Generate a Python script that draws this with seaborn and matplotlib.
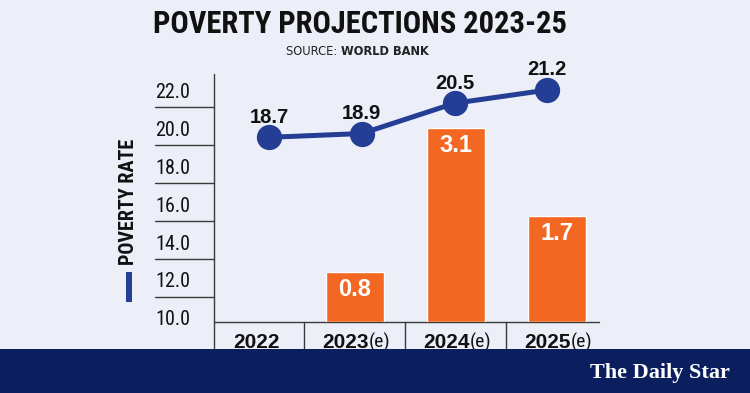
import matplotlib
matplotlib.use("Agg")
import matplotlib.pyplot as plt
import matplotlib.transforms as mtransforms
from matplotlib import font_manager
from matplotlib.patches import Rectangle
from matplotlib.lines import Line2D
import seaborn as sns

# data
years = ["2022", "2023", "2024", "2025"]
year_suffix = ["", "(e)", "(e)", "(e)"]
poverty_rate = [18.7, 18.9, 20.5, 21.2]
bar_years = ["2023", "2024", "2025"]
bar_values = [0.8, 3.1, 1.7]
y_ticks = [10, 12, 14, 16, 18, 20, 22]

BG = "#ECEEF8"
ORANGE = "#F26822"
BLUE = "#233E94"
NAVY = "#0B1F5E"
INK = "#111111"
AXC = "#3a3a3a"

# pick a condensed face if one is around, else shrink the plain one
installed = {f.name for f in font_manager.fontManager.ttflist}
NARROW, k = ["Liberation Sans", "DejaVu Sans"], 0.84
for cand in ["Liberation Sans Narrow", "Roboto Condensed", "DejaVu Sans Condensed",
             "Open Sans Condensed"]:
    if cand in installed:
        NARROW, k = [cand, "DejaVu Sans"], 1.0
        break

sns.set_theme(style="white")
plt.rcParams["font.family"] = ["Liberation Sans", "DejaVu Sans"]

fig = plt.figure(figsize=(7.5, 3.93), dpi=100, facecolor=BG)
rect = [0.2853, 0.1799, 0.5137, 0.6310]

# main axis: carries the poverty rate tick labels
ax = fig.add_axes(rect)
ax.set_facecolor(BG)

# bars on their own scale
ax_bar = ax.twinx()
sns.barplot(x=bar_years, y=bar_values, order=years, color=ORANGE,
            saturation=1, width=0.575, ax=ax_bar)
ax_bar.set_ylim(0, 3.949)
ax_bar.set_yticks([])
ax_bar.set_ylabel("")
for yr, v in zip(bar_years, bar_values):
    ax_bar.annotate(f"{v}", (years.index(yr), v), xytext=(0, -17.3),
                    textcoords="offset points", ha="center", va="baseline",
                    fontsize=17, fontweight="bold", color="white")

# line on its own overlay axes
ax_line = fig.add_axes(rect, facecolor="none")
sns.pointplot(x=years, y=poverty_rate, color=BLUE, errorbar=None,
              markersize=15.5, linewidth=3.6, ax=ax_line)
ax_line.set_xlim(-0.594, 3.561)
ax_line.set_ylim(8.922, 22.03)
ax_line.axis("off")
for i, v in enumerate(poverty_rate):
    ax_line.annotate(f"{v}", (i, v), xytext=(0, 10.5), textcoords="offset points",
                     ha="center", va="baseline", fontsize=14.5,
                     fontweight="bold", color=INK)

ax.set_ylim(9.762, 22.872)
ax.set_xlim(-0.396, 3.419)
for a in (ax, ax_bar):
    for s in a.spines.values():
        s.set_visible(False)
ax.set_xticks([])
ax.set_xlabel("")

ax.set_yticks(y_ticks)
ax.set_yticklabels([f"{t:.1f}" for t in y_ticks], fontsize=14.5 * k,
                   family=NARROW, color=INK)
ax.tick_params(axis="y", length=0, pad=42.5)
for lab in ax.get_yticklabels():
    lab.set_horizontalalignment("left")

# axis lines, tick underlines and column separators
ax.plot([0, 1], [0, 0], transform=ax.transAxes, color=AXC, lw=1, clip_on=False)
ax.plot([0, 0], [1, -0.108], transform=ax.transAxes, color=AXC, lw=1, clip_on=False)
tr_y = mtransforms.blended_transform_factory(ax.transAxes, ax.transData)
for t in y_ticks[1:]:
    ax.plot([-0.153, 0], [t - 0.88, t - 0.88], transform=tr_y, color=AXC,
            lw=1, clip_on=False)
tr_x = mtransforms.blended_transform_factory(ax.transData, ax.transAxes)
for i in range(len(years) - 1):
    ax.plot([i + 0.5, i + 0.5], [0, -0.108], transform=tr_x, color=AXC,
            lw=1, clip_on=False)

# year labels with the (e) suffix in lighter type
for i, (yr, suf) in enumerate(zip(years, year_suffix)):
    if suf:
        ax.text(i + 0.135, -0.1036, yr, transform=tr_x, ha="right", va="baseline",
                fontsize=15, fontweight="heavy", color=INK)
        ax.text(i + 0.135, -0.1036, suf, transform=tr_x, ha="left", va="baseline",
                fontsize=14 * k, family=NARROW, color=INK)
    else:
        ax.text(i + 0.03, -0.1036, yr, transform=tr_x, ha="center", va="baseline",
                fontsize=15, fontweight="heavy", color=INK)

# axis title with the blue key mark
fig.text(0.171, 0.486, "POVERTY RATE", rotation=90, ha="center", va="center",
         fontsize=14.5 * k, fontweight="bold", family=NARROW, color=INK)
fig.add_artist(Line2D([0.1715, 0.1715], [0.2323, 0.3087], transform=fig.transFigure,
                      color=BLUE, lw=4.3, solid_capstyle="butt"))

# titles
fig.text(0.48, 0.915, "POVERTY PROJECTIONS 2023-25", ha="center", va="baseline",
         fontsize=22 * k, fontweight="bold", family=NARROW, color=INK)
fig.text(0.455, 0.860, "SOURCE: ", ha="right", va="baseline", fontsize=8.3,
         family=["DejaVu Sans"], color="#222222")
fig.text(0.455, 0.860, "WORLD BANK", ha="left", va="baseline", fontsize=8.3,
         fontweight="bold", family=["DejaVu Sans"], color="#222222")

# footer banner
fig.add_artist(Rectangle((0, 0), 1, 44 / 393, transform=fig.transFigure,
                         facecolor=NAVY, edgecolor="none", zorder=5))
fig.text(0.88, 0.038, "The Daily Star", ha="center", va="baseline", fontsize=16,
         fontweight="bold", family=["Liberation Serif", "DejaVu Serif"],
         color="white", zorder=6)

fig.savefig("out.png", dpi=100, facecolor=BG)
